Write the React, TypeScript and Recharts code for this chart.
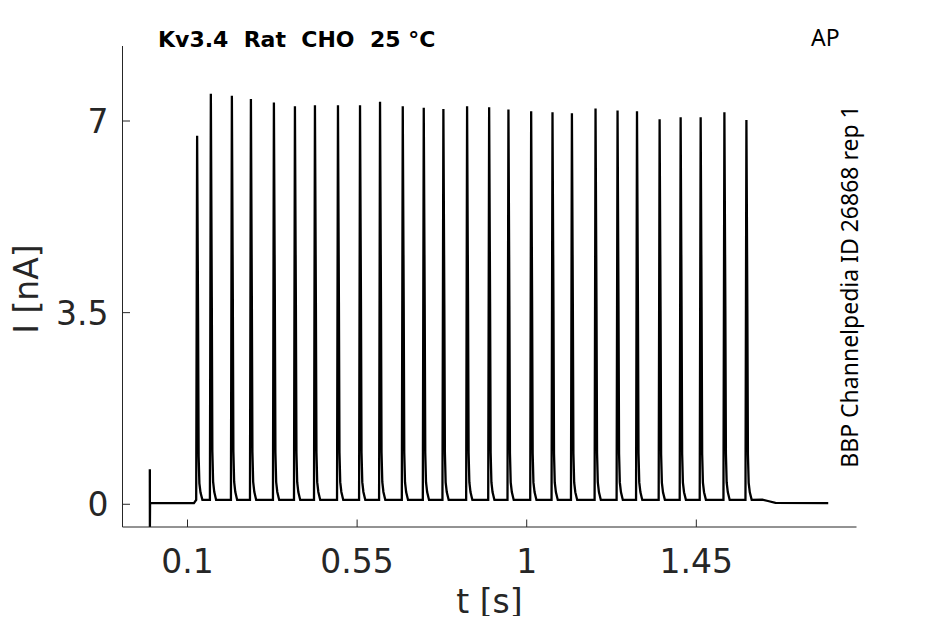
import { Line, LineChart, XAxis, YAxis } from "recharts";

// spike times (s) and peak currents (nA)
const spikeTimes = [
  0.1255, 0.1619, 0.2177, 0.2682, 0.3292, 0.385, 0.4381, 0.4992, 0.5577,
  0.6108, 0.6711, 0.7268, 0.7789, 0.8418, 0.9003, 0.9515, 1.0118, 1.0684,
  1.1199, 1.1826, 1.241, 1.2926, 1.3526, 1.4084, 1.4615, 1.5245, 1.5829,
];
const spikePeaks = [
  6.73, 7.5, 7.46, 7.4, 7.34, 7.27, 7.29, 7.29, 7.29, 7.35, 7.27, 7.24, 7.22,
  7.27, 7.25, 7.21, 7.18, 7.16, 7.14, 7.23, 7.19, 7.18, 7.03, 7.07, 7.07, 7.16,
  7.02,
];

// one spike's outline: time from peak (s) and fraction of peak height
const spikeShapeOffsets = [-0.0025, 0, 0.0025, 0.004, 0.006, 0.009, 0.014];
const spikeShapeFractions = [0, 1, 0.5, 0.12, 0.045, 0.02, 0];
const stimLevel = 0.08;

// start (artifact + rest) and end (tail after last spike) of the trace
const headTimes = [0, 0.0002, 0.0006, 0.117];
const headCurrents = [0.64, -0.415, 0.02, 0.02];
const tailTimes = [1.625, 1.64, 1.66, 1.8];
const tailCurrents = [0.085, 0.06, 0.025, 0.02];

const xTicks = [0.1, 0.55, 1, 1.45];
const yTicks = [0, 3.5, 7];

const trace: Array<{ t: number; i: number }> = [];
headTimes.forEach((t, k) => trace.push({ t, i: headCurrents[k] }));
spikeTimes.forEach((ts, k) => {
  spikeShapeOffsets.forEach((dt, j) => {
    trace.push({
      t: ts + dt,
      i: stimLevel + spikeShapeFractions[j] * (spikePeaks[k] - stimLevel),
    });
  });
});
tailTimes.forEach((t, k) => trace.push({ t, i: tailCurrents[k] }));

const axisColor = "#262626";
const tickFont = "DejaVu Sans";

const XTick = (props: any) => {
  const { x, y, payload } = props;
  return (
    <g>
      <line x1={x} x2={x} y1={y} y2={y - 7.5} stroke={axisColor} strokeWidth={1} />
      <text
        x={x}
        y={y + 46}
        textAnchor="middle"
        fontFamily={tickFont}
        fontSize={33}
        fill={axisColor}
      >
        {String(payload.value)}
      </text>
    </g>
  );
};

const YTick = (props: any) => {
  const { x, y, payload } = props;
  return (
    <g>
      <line x1={x} x2={x + 7.5} y1={y} y2={y} stroke={axisColor} strokeWidth={1} />
      <text
        x={x - 14}
        y={y + 12}
        textAnchor="end"
        fontFamily={tickFont}
        fontSize={33}
        fill={axisColor}
      >
        {String(payload.value)}
      </text>
    </g>
  );
};

export default function App() {
  return (
    <div style={{ position: "relative", width: 929, height: 608 }}>
      <LineChart
        width={929}
        height={608}
        data={trace}
        margin={{ top: 38, right: 80.5, bottom: 29, left: 54.5 }}
      >
        <XAxis
          dataKey="t"
          type="number"
          domain={[-0.0725, 1.875]}
          ticks={xTicks}
          allowDataOverflow
          height={60}
          tickSize={0}
          tickMargin={0}
          tick={XTick}
          axisLine={{ stroke: axisColor, strokeWidth: 1 }}
        />
        <YAxis
          type="number"
          domain={[-0.415, 8.37]}
          ticks={yTicks}
          allowDataOverflow
          width={60}
          tickSize={0}
          tickMargin={0}
          tick={YTick}
          axisLine={{ stroke: axisColor, strokeWidth: 1 }}
        />
        <Line
          dataKey="i"
          type="linear"
          stroke="#000000"
          strokeWidth={2.3}
          dot={false}
          isAnimationActive={false}
        />
      </LineChart>
      {/* overlay in page coordinates (covers the body margin) */}
      <svg
        width={945}
        height={624}
        style={{ position: "absolute", left: -8, top: -8, pointerEvents: "none" }}
      >
        <text
          x={158}
          y={46.7}
          fontFamily="DejaVu Sans"
          fontWeight="bold"
          fontSize={22}
          fill="#000000"
          style={{ whiteSpace: "pre" }}
        >
          {"Kv3.4  Rat  CHO  25 °C"}
        </text>
        <text x={811} y={46} fontFamily="Noto Sans" fontSize={23} fill="#000000">
          AP
        </text>
        <text
          x={858}
          y={286.5}
          transform="rotate(-90 858 286.5)"
          textAnchor="middle"
          fontFamily="Noto Sans"
          fontSize={23}
          fill="#000000"
        >
          BBP Channelpedia ID 26868 rep 1
        </text>
        <text
          x={38}
          y={289}
          transform="rotate(-90 38 289)"
          textAnchor="middle"
          fontFamily={tickFont}
          fontSize={33}
          fill={axisColor}
        >
          I [nA]
        </text>
        <text
          x={489.5}
          y={613}
          textAnchor="middle"
          fontFamily={tickFont}
          fontSize={33}
          fill={axisColor}
        >
          t [s]
        </text>
      </svg>
    </div>
  );
}
